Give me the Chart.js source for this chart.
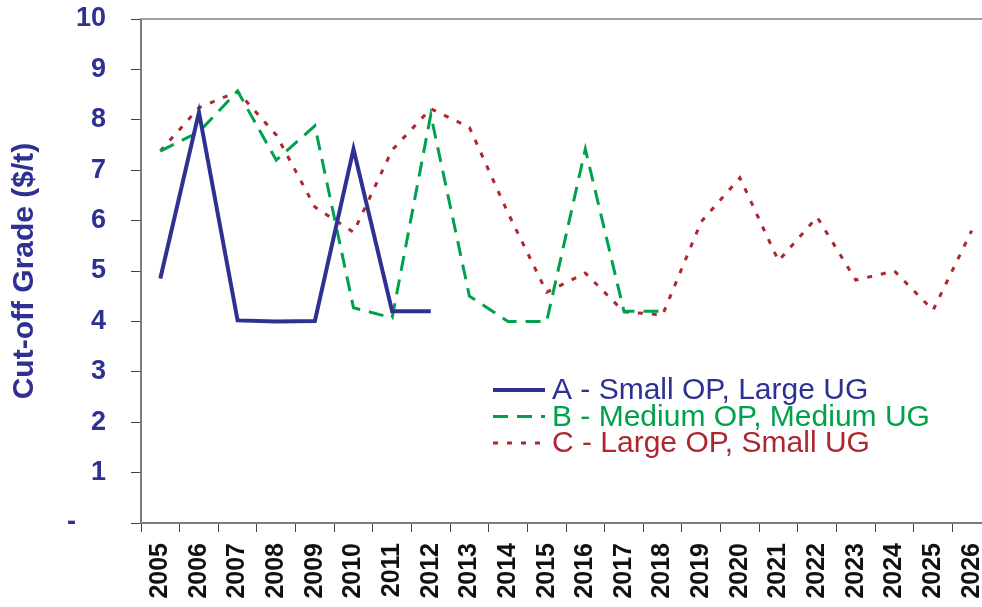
<!DOCTYPE html>
<html>
<head>
<meta charset="utf-8">
<script src="https://cdn.jsdelivr.net/npm/chart.js@4/dist/chart.umd.min.js"></script>
<style>
  html, body { margin: 0; padding: 0; background: #fff; overflow: hidden; }
  /* plot runs a little past the right edge of the window, as in the source image */
  #wrap { width: 992px; height: 607px; }
</style>
</head>
<body>
<div id="wrap"><canvas id="chart"></canvas></div>
<script>
const years = [
  "2005", "2006", "2007", "2008", "2009", "2010", "2011", "2012", "2013", "2014", "2015",
  "2016", "2017", "2018", "2019", "2020", "2021", "2022", "2023", "2024", "2025", "2026",
];

const smallOpLargeUg = [4.85, 8.15, 4.02, 4.0, 4.01, 7.42, 4.2, 4.2];
const mediumOpMediumUg = [7.38, 7.76, 8.57, 7.2, 7.88, 4.27, 4.07, 8.1, 4.5, 4.0, 4.0, 7.42, 4.2, 4.2];
const largeOpSmallUg = [
  7.38, 8.24, 8.56, 7.7, 6.27, 5.77, 7.4, 8.22, 7.85, 6.15, 4.58,
  4.96, 4.19, 4.13, 5.98, 6.85, 5.2, 6.07, 4.82, 5.0, 4.22, 5.8,
];

const seriesNames = [
  "A - Small OP, Large UG",
  "B - Medium OP, Medium UG",
  "C - Large OP, Small UG",
];

const BLUE = "#2E3192";
const GREEN = "#00A14B";
const RED = "#AC282F";
const AXIS = "#7a7a7a";
const FONT = "'Liberation Sans', Arial, sans-serif";

// legend sits inside the plot, drawn by hand so each label gets its own colour
const insideLegend = {
  id: "insideLegend",
  beforeDatasetsDraw(chart) {
    const { ctx, chartArea } = chart;
    ctx.save();
    ctx.strokeStyle = "#a0a0a0";
    ctx.lineWidth = 2;
    ctx.beginPath();
    ctx.moveTo(chartArea.left, chartArea.top);
    ctx.lineTo(chartArea.right, chartArea.top);
    ctx.stroke();
    ctx.restore();
  },
  afterDraw(chart) {
    const { ctx, chartArea } = chart;
    const x0 = chartArea.left + 352;
    const y0 = chartArea.top + 371;
    ctx.save();
    ctx.font = `30px ${FONT}`;
    ctx.textBaseline = "middle";
    chart.data.datasets.forEach((ds, i) => {
      const y = y0 + i * 26.5;
      ctx.strokeStyle = ds.borderColor;
      ctx.lineWidth = ds.borderWidth;
      ctx.setLineDash(ds.borderDash || []);
      ctx.beginPath();
      ctx.moveTo(x0, y);
      ctx.lineTo(x0 + 52, y);
      ctx.stroke();
      ctx.fillStyle = ds.borderColor;
      ctx.fillText(ds.label, x0 + 59, y + 1);
    });
    ctx.restore();
  },
};

const drawChart = (canvas) =>
  new Chart(canvas, {
    type: "line",
    data: {
      labels: years,
      datasets: [
        {
          label: seriesNames[0],
          data: smallOpLargeUg,
          borderColor: BLUE,
          borderWidth: 4,
          pointRadius: 0,
        },
        {
          label: seriesNames[1],
          data: mediumOpMediumUg,
          borderColor: GREEN,
          borderWidth: 3,
          borderDash: [15, 9],
          pointRadius: 0,
        },
        {
          label: seriesNames[2],
          data: largeOpSmallUg,
          borderColor: RED,
          borderWidth: 3,
          borderDash: [5, 9],
          pointRadius: 0,
        },
      ],
    },
    plugins: [insideLegend],
    options: {
      responsive: true,
      maintainAspectRatio: false,
      animation: false,
      layout: { padding: { top: 19, right: 1, left: 0, bottom: 0 } },
      plugins: {
        legend: { display: false },
        tooltip: { enabled: false },
      },
      scales: {
        x: {
          offset: true,
          afterFit: (scale) => {
            scale.height = 84;
            scale.paddingLeft = 0;
            scale.paddingRight = 0;
          },
          grid: {
            offset: true,
            drawOnChartArea: false,
            drawTicks: true,
            tickLength: 9,
            color: "#444",
            lineWidth: 1,
          },
          border: { color: AXIS, width: 2 },
          ticks: {
            autoSkip: false,
            minRotation: 90,
            maxRotation: 90,
            padding: 11,
            color: "#111",
            font: { family: FONT, size: 25, weight: "bold" },
          },
        },
        y: {
          min: 0,
          max: 10,
          afterFit: (scale) => {
            scale.width = 141;
            scale.paddingTop = 0;
            scale.paddingBottom = 0;
          },
          grid: {
            drawOnChartArea: false,
            drawTicks: true,
            tickLength: 10,
            color: "#444",
            lineWidth: 1,
          },
          border: { color: AXIS, width: 2 },
          ticks: {
            stepSize: 1,
            padding: 25,
            color: BLUE,
            font: { family: FONT, size: 27, weight: "bold" },
            callback: (value) => (value === 0 ? "-    " : value),
          },
          title: {
            display: true,
            text: "Cut-off Grade ($/t)",
            color: BLUE,
            padding: { top: 7, bottom: 0 },
            font: { family: FONT, size: 30, weight: "bold" },
          },
        },
      },
    },
  });

drawChart(document.getElementById("chart"));
</script>
</body>
</html>
